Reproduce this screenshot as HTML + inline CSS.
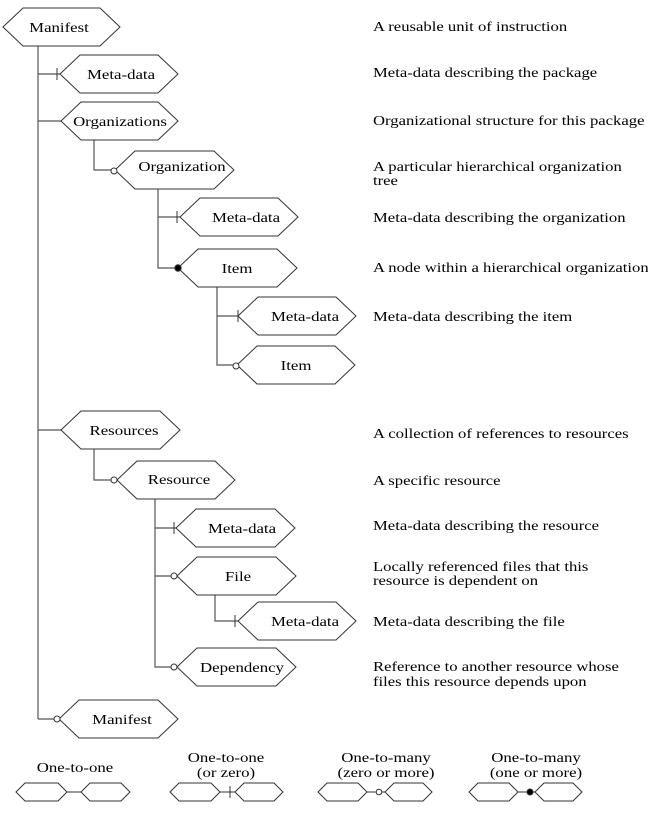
<!DOCTYPE html>
<html><head><style>html,body{margin:0;padding:0;background:#fff}svg{display:block}text{font-family:"Liberation Serif",serif;font-size:14px;fill:#000}</style></head><body>
<svg width="648" height="816" viewBox="0 0 648 816" xmlns="http://www.w3.org/2000/svg">
<g fill="none" stroke="#555" stroke-width="1.2">
<line x1="38" y1="46" x2="38" y2="719"/>
<line x1="38" y1="74" x2="60" y2="74"/>
<line x1="38" y1="121" x2="61" y2="121"/>
<line x1="38" y1="430" x2="61" y2="430"/>
<line x1="38" y1="719" x2="56" y2="719"/>
<polyline points="94,140 94,170 112,170"/>
<polyline points="158,187 158,268 175,268"/>
<line x1="158" y1="217" x2="180" y2="217"/>
<polyline points="217,287 217,365 234,365"/>
<line x1="217" y1="316" x2="238" y2="316"/>
<polyline points="94,449 94,480 114,480"/>
<polyline points="155,498 155,667 174,667"/>
<line x1="155" y1="528" x2="176" y2="528"/>
<line x1="155" y1="576" x2="174" y2="576"/>
<polyline points="215,595 215,621 238,621"/>
</g>
<g fill="#fff" stroke="#333" stroke-width="1">
<polygon points="3,27 23,8 100,8 120,27 100,46 23,46"/>
<polygon points="60,74 80,55 158,55 178,74 158,93 80,93"/>
<polygon points="61,121 81,102 158,102 178,121 158,140 81,140"/>
<polygon points="115,170 135,151 214,151 234,170 214,189 135,189"/>
<polygon points="180,217 200,198 278,198 298,217 278,236 200,236"/>
<polygon points="178,268 198,249 277,249 297,268 277,287 198,287"/>
<polygon points="238,316 258,297 336,297 356,316 336,335 258,335"/>
<polygon points="237,365 257,346 335,346 355,365 335,384 257,384"/>
<polygon points="61,430 81,411 160,411 180,430 160,449 81,449"/>
<polygon points="117,480 137,461 215,461 235,480 215,499 137,499"/>
<polygon points="176,528 196,509 275,509 295,528 275,547 196,547"/>
<polygon points="177,576 197,557 276,557 296,576 276,595 197,595"/>
<polygon points="238,621 258,602 336,602 356,621 336,640 258,640"/>
<polygon points="177,667 197,648 276,648 296,667 276,686 197,686"/>
<polygon points="59,719 79,700 158,700 178,719 158,738 79,738"/>
</g>
<g stroke="#333" stroke-width="1" fill="#fff">
<line x1="57" y1="68" x2="57" y2="80"/>
<line x1="177" y1="211" x2="177" y2="223"/>
<line x1="238" y1="310" x2="238" y2="322"/>
<line x1="174" y1="522" x2="174" y2="534"/>
<line x1="235" y1="615" x2="235" y2="627"/>
<circle cx="114" cy="171" r="3"/>
<circle cx="236" cy="366" r="3"/>
<circle cx="114" cy="480" r="3"/>
<circle cx="174" cy="576" r="3"/>
<circle cx="174" cy="667" r="3"/>
<circle cx="57" cy="719" r="3"/>
<circle cx="178" cy="268" r="3.2" fill="#000"/>
</g>
<g text-anchor="middle">
<text transform="translate(59,32) scale(1.2,1)">Manifest</text>
<text transform="translate(121,79) scale(1.2,1)">Meta-data</text>
<text transform="translate(120,126) scale(1.2,1)">Organizations</text>
<text transform="translate(182,171) scale(1.2,1)">Organization</text>
<text transform="translate(246,222) scale(1.2,1)">Meta-data</text>
<text transform="translate(237,273) scale(1.2,1)">Item</text>
<text transform="translate(305,321) scale(1.2,1)">Meta-data</text>
<text transform="translate(296,370) scale(1.2,1)">Item</text>
<text transform="translate(124,435) scale(1.2,1)">Resources</text>
<text transform="translate(179,484) scale(1.2,1)">Resource</text>
<text transform="translate(242,533) scale(1.2,1)">Meta-data</text>
<text transform="translate(238,581) scale(1.2,1)">File</text>
<text transform="translate(305,626) scale(1.2,1)">Meta-data</text>
<text transform="translate(242,672) scale(1.2,1)">Dependency</text>
<text transform="translate(122,724) scale(1.2,1)">Manifest</text>
</g>
<g>
<text transform="translate(373,31) scale(1.19,1)">A reusable unit of instruction</text>
<text transform="translate(373,77) scale(1.19,1)">Meta-data describing the package</text>
<text transform="translate(373,125) scale(1.19,1)">Organizational structure for this package</text>
<text transform="translate(373,171) scale(1.19,1)">A particular hierarchical organization</text>
<text transform="translate(373,185) scale(1.19,1)">tree</text>
<text transform="translate(373,222) scale(1.19,1)">Meta-data describing the organization</text>
<text transform="translate(373,272) scale(1.19,1)">A node within a hierarchical organization</text>
<text transform="translate(373,321) scale(1.19,1)">Meta-data describing the item</text>
<text transform="translate(373,438) scale(1.19,1)">A collection of references to resources</text>
<text transform="translate(373,485) scale(1.19,1)">A specific resource</text>
<text transform="translate(373,530) scale(1.19,1)">Meta-data describing the resource</text>
<text transform="translate(373,571) scale(1.19,1)">Locally referenced files that this</text>
<text transform="translate(373,585) scale(1.19,1)">resource is dependent on</text>
<text transform="translate(373,626) scale(1.19,1)">Meta-data describing the file</text>
<text transform="translate(373,671) scale(1.19,1)">Reference to another resource whose</text>
<text transform="translate(373,686) scale(1.19,1)">files this resource depends upon</text>
</g>
<g text-anchor="middle">
<text transform="translate(75,772) scale(1.2,1)">One-to-one</text>
<text transform="translate(226,762) scale(1.2,1)">One-to-one</text>
<text transform="translate(226,777) scale(1.2,1)">(or zero)</text>
<text transform="translate(386,762) scale(1.2,1)">One-to-many</text>
<text transform="translate(386,777) scale(1.2,1)">(zero or more)</text>
<text transform="translate(536,762) scale(1.2,1)">One-to-many</text>
<text transform="translate(536,777) scale(1.2,1)">(one or more)</text>
</g>
<g fill="#fff" stroke="#333" stroke-width="1">
<line x1="67" y1="792" x2="81" y2="792"/>
<polygon points="16,792 25,783 58,783 67,792 58,801 25,801"/>
<polygon points="81,792 90,783 121,783 130,792 121,801 90,801"/>
<line x1="220" y1="792" x2="235" y2="792"/>
<line x1="230" y1="786" x2="230" y2="798"/>
<polygon points="170,792 179,783 211,783 220,792 211,801 179,801"/>
<polygon points="235,792 244,783 274,783 283,792 274,801 244,801"/>
<line x1="367" y1="792" x2="385" y2="792"/>
<polygon points="318,792 327,783 358,783 367,792 358,801 327,801"/>
<polygon points="385,792 394,783 423,783 432,792 423,801 394,801"/>
<circle cx="379" cy="792" r="2.8"/>
<line x1="518" y1="792" x2="535" y2="792"/>
<polygon points="469,792 478,783 509,783 518,792 509,801 478,801"/>
<polygon points="535,792 544,783 573,783 582,792 573,801 544,801"/>
<circle cx="530" cy="792" r="3" fill="#000"/>
</g>
</svg>
</body></html>
